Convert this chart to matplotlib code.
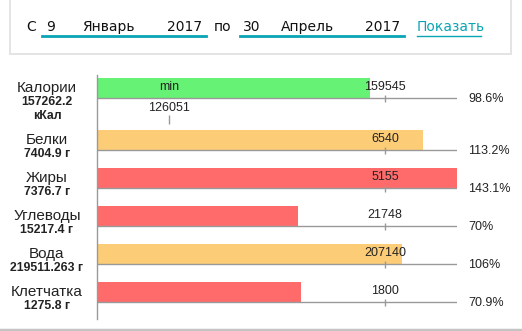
import numpy as np
import matplotlib
matplotlib.use("Agg")
import matplotlib.pyplot as plt
from matplotlib.patches import Rectangle

# данные
names = ["Калории", "Белки", "Жиры", "Углеводы", "Вода", "Клетчатка"]
totals = [["157262.2", "кКал"], ["7404.9 г"], ["7376.7 г"], ["15217.4 г"],
          ["219511.263 г"], ["1275.8 г"]]
norms = [159545, 6540, 5155, 21748, 207140, 1800]
pct_labels = ["98.6%", "113.2%", "143.1%", "70%", "106%", "70.9%"]
fill_pct = [94.8, 113.1, 143.1, 69.8, 105.8, 70.8]
colors = ["#66f274", "#fdcc77", "#ff6b6b", "#ff6b6b", "#fdcc77", "#ff6b6b"]
cal_min = 126051
cal_min_pos = 25
x_max = 125

W, H = 522, 331
fig = plt.figure(figsize=(W / 100, H / 100), dpi=100)
fig.patch.set_facecolor("white")

def fx(px):
    return px / W

def fy(py):
    return 1 - py / H

# верхняя панель с датами
fig.patches.append(Rectangle((fx(9), fy(55)), fx(503), 55 / H, transform=fig.transFigure,
                             facecolor="#e4e4e4", edgecolor="none", zorder=0))
fig.patches.append(Rectangle((fx(11), fy(53)), fx(499), 53 / H, transform=fig.transFigure,
                             facecolor="white", edgecolor="none", zorder=1))
teal = "#0aa5b5"
top = dict(fontsize=10, family="DejaVu Sans", color="#111111", va="center", zorder=3)
ty = fy(27)
fig.text(fx(26), ty, "С", **top)
fig.text(fx(46), ty, "9", **top)
fig.text(fx(82), ty, "Январь", **top)
fig.text(fx(167), ty, "2017", **top)
fig.text(fx(214), ty, "по", **top)
fig.text(fx(243), ty, "30", **top)
fig.text(fx(281), ty, "Апрель", **top)
fig.text(fx(365), ty, "2017", **top)
fig.text(fx(417), ty, "Показать", fontsize=10, family="DejaVu Sans", color=teal,
         va="center", zorder=3)
for x0, x1, lw in [(42, 206, 2), (240, 404, 2), (417, 481, 1)]:
    fig.add_artist(plt.Line2D([fx(x0), fx(x1)], [fy(35.5), fy(35.5)], color=teal, lw=lw,
                              transform=fig.transFigure, zorder=3))

# нижняя граница карточки
fig.add_artist(plt.Line2D([0, 1], [fy(329.5), fy(329.5)], color="#c4c4c4", lw=2.5,
                          transform=fig.transFigure))

# график
ax = fig.add_axes([fx(97), fy(319), fx(360), (319 - 75) / H])
ax.set_xlim(0, x_max)
ax.set_ylim(319, 75)
ax.axis("off")
ax.plot([0, 0], [75, 319], color="#999999", lw=1, clip_on=False)

lines_y = np.array([98] + [150 + 38 * i for i in range(len(names) - 1)])
ax.barh(lines_y - 10, fill_pct, height=20, color=colors, zorder=1)
ax.hlines(lines_y, 0, x_max, color="#999999", lw=1, zorder=2)
ax.vlines([100] * len(lines_y), lines_y - 3, lines_y + 4, color="#999999", lw=1, zorder=2)

lab = dict(family="Liberation Sans", color="#222222")
for y, name, tot, nrm, pct in zip(lines_y, names, totals, norms, pct_labels):
    ax.text(100, y - 11, str(nrm), ha="center", va="center", fontsize=9, zorder=3, **lab)
    ax.text(x_max + 3.8, y + 1, pct, ha="left", va="center", fontsize=9, clip_on=False, **lab)
    fig.text(fx(47), fy(y - 10), name, ha="center", va="center", fontsize=11, **lab)
    for i, line in enumerate(tot):
        fig.text(fx(47), fy(y + 4 + 14 * i), line, ha="center", va="center", fontsize=8.8,
                 fontweight="bold", **lab)

ax.text(cal_min_pos, lines_y[0] - 11, "min", ha="center", va="center", fontsize=9, zorder=3, **lab)
ax.text(cal_min_pos, lines_y[0] + 10, str(cal_min), ha="center", va="center", fontsize=9, **lab)
ax.vlines(cal_min_pos, lines_y[0] + 17, lines_y[0] + 26, color="#999999", lw=1)

fig.savefig("out.png", dpi=100)
